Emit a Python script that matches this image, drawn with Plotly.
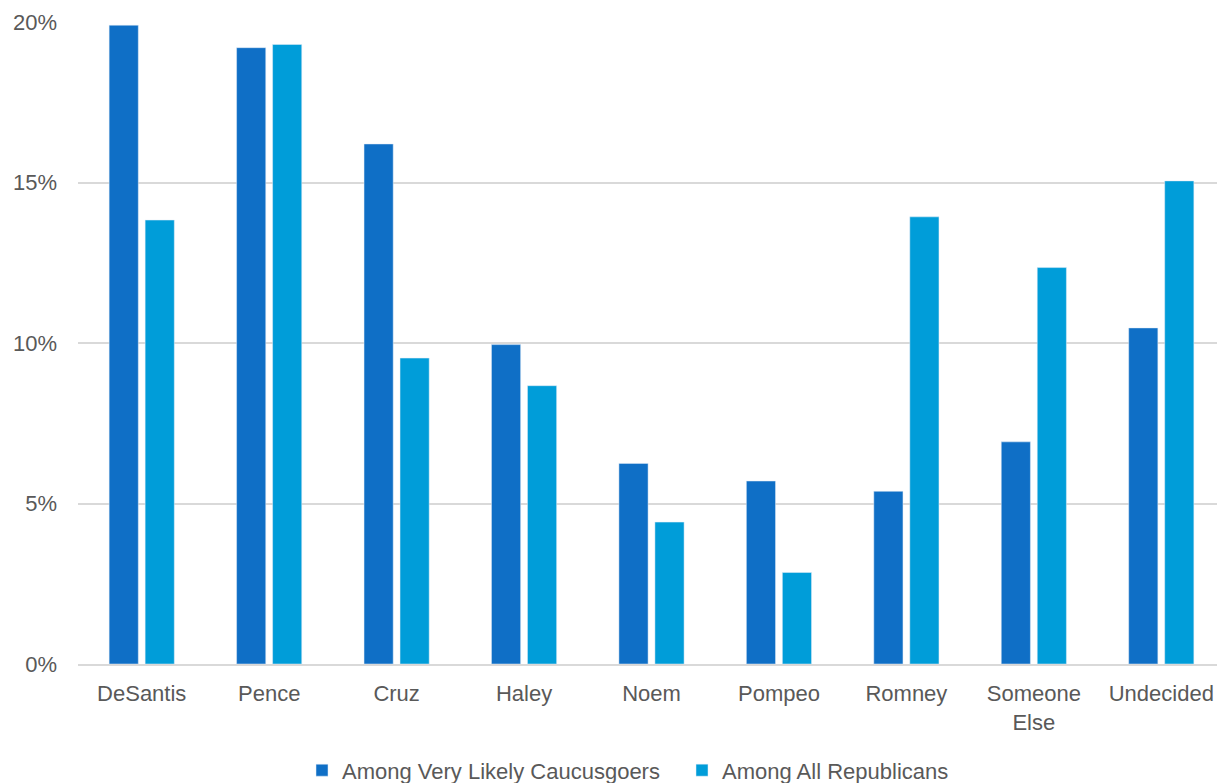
import plotly.graph_objects as go

categories = ["DeSantis", "Pence", "Cruz", "Haley", "Noem", "Pompeo", "Romney", "Someone<br>Else", "Undecided"]
very_likely = [19.9, 19.2, 16.2, 9.95, 6.25, 5.7, 5.38, 6.92, 10.47]
all_reps = [13.83, 19.3, 9.53, 8.67, 4.42, 2.85, 13.93, 12.35, 15.05]
series_names = ["Among Very Likely Caucusgoers", "Among All Republicans"]
tick_vals = [0, 5, 10, 15, 20]
tick_text = ["0%", "5%", "10%", "15%", "20%"]

fig = go.Figure()
fig.add_trace(go.Bar(x=categories, y=very_likely, name=series_names[0], marker_color="#0F6FC6"))
fig.add_trace(go.Bar(x=categories, y=all_reps, name=series_names[1], marker_color="#009DD9"))

fig.update_layout(
    width=1217, height=775,
    margin=dict(l=70, r=0, t=14, b=119, autoexpand=False),
    plot_bgcolor="white", paper_bgcolor="white",
    barmode="group", bargap=0.435, bargroupgap=0.19,
    font=dict(family="Liberation Sans, Arial, sans-serif", size=22, color="#595959"),
    legend=dict(orientation="h", x=0.5266, xanchor="center", y=-0.133, yanchor="top",
                font=dict(family="Liberation Sans, sans-serif", size=22, color="#595959"),
                itemwidth=30, traceorder="normal", entrywidth=335),
    showlegend=True,
)
fig.update_yaxes(range=[0, 20], tickvals=tick_vals, ticktext=tick_text, showgrid=True,
                 gridcolor="#D9D9D9", gridwidth=1.5, zeroline=False, showline=False, ticks="",
                 ticklabelstandoff=20, automargin=False)
fig.update_xaxes(showline=True, linecolor="#D9D9D9", linewidth=1.5, ticks="", automargin=False,
                 ticklabelstandoff=9)

fig.write_html("out.html")
